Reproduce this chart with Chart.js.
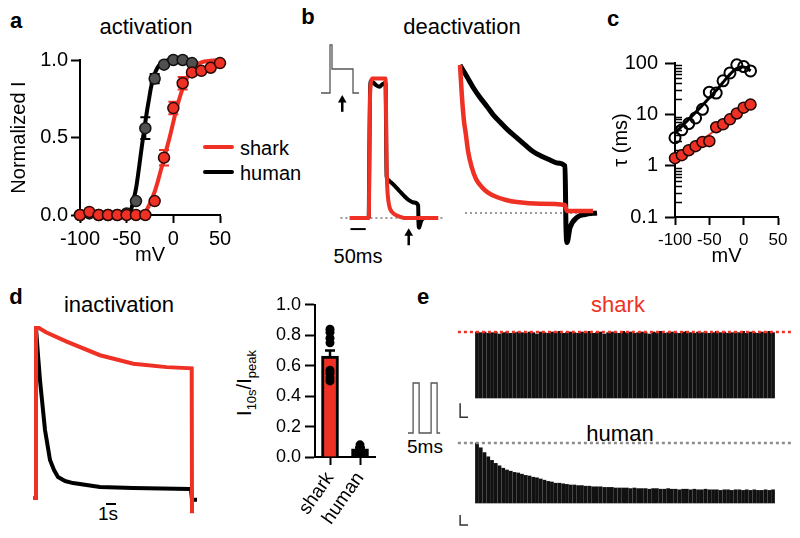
<!DOCTYPE html>
<html><head><meta charset="utf-8">
<script src="https://cdn.jsdelivr.net/npm/chart.js@4.4.1/dist/chart.umd.min.js"></script>
<style>
body{margin:0;background:#fff;}
#wrap{position:relative;width:800px;height:538px;overflow:hidden;font-family:"Liberation Sans",Arial,sans-serif;color:#000;background:#fff;}
canvas{position:absolute;}
.t{position:absolute;transform:translate(-50%,-50%);white-space:nowrap;line-height:1;}
.lt{position:absolute;transform:translate(0,-50%);white-space:nowrap;line-height:1;}
.lg{position:absolute;height:4px;border-radius:2px;}
</style></head><body><div id="wrap">
<div class="t" style="left:16px;top:21px;font-size:22px;font-weight:bold">a</div>
<div class="t" style="left:146px;top:27px;font-size:22px">activation</div>
<div class="lg" style="left:203px;top:145px;width:31px;background:#ee3124"></div>
<div class="lt" style="left:240px;top:148px;font-size:20px">shark</div>
<div class="lg" style="left:203px;top:170px;width:31px;background:#000"></div>
<div class="lt" style="left:240px;top:173px;font-size:20px">human</div>
<div class="t" style="left:308px;top:17px;font-size:22px;font-weight:bold">b</div>
<div class="t" style="left:462px;top:27px;font-size:22px">deactivation</div>
<div class="t" style="left:358px;top:256px;font-size:20px">50ms</div>
<div class="t" style="left:613px;top:19px;font-size:22px;font-weight:bold">c</div>
<div class="t" style="left:16px;top:297px;font-size:22px;font-weight:bold">d</div>
<div class="t" style="left:119px;top:305px;font-size:22px">inactivation</div>
<div class="t" style="left:108px;top:513px;font-size:19px">1s</div>
<div class="t" style="left:246px;top:383px;font-size:20px;transform:translate(-50%,-50%) rotate(-90deg)">I<sub style="font-size:13px">10s</sub>/I<sub style="font-size:13px">peak</sub></div>
<div class="t" style="left:423px;top:297px;font-size:22px;font-weight:bold">e</div>
<div class="t" style="left:618px;top:305px;font-size:22px;color:#ee3124">shark</div>
<div class="t" style="left:620px;top:434px;font-size:22px">human</div>
<div class="t" style="left:425px;top:446px;font-size:19px">5ms</div>
</div>
<script>
const RED = '#ee3124';
const DOT_GREY = '#8c8c8c';

// ---------- a: activation ----------
const actVoltage = [-100,-90,-80,-70,-60,-50,-40,-30,-20,-10,0,10,20,30,40,50];
const actHuman    = [0.00,0.01,0.00,0.00,0.00,0.01,0.09,0.56,0.88,0.97,1.00,1.00,0.98];
const actHumanSem = [0,0,0,0,0,0,0.01,0.07,0.03,0.01,0,0,0.01];
const actShark    = [0.00,0.02,0.00,0.00,0.00,0.00,0.00,0.00,0.09,0.37,0.69,0.85,0.92,0.93,0.95,0.98];
const actSharkSem = [0,0,0,0,0,0,0,0,0.01,0.05,0.04,0.04,0.02,0.01,0.01,0.01];
const actFitHumanV = [-100,-55,-48,-45,-43,-40,-38,-36,-34,-32,-30,-28,-26,-24,-22,-20,-17,-14,-10,-5,0,20];
const actFitHuman  = [0,0,0.01,0.04,0.09,0.17,0.25,0.34,0.43,0.52,0.6,0.68,0.75,0.82,0.87,0.91,0.95,0.975,0.99,0.998,1,1];
const actFitSharkV = [-100,-35,-30,-27,-24,-20,-16,-12,-8,-4,0,4,8,12,16,20,25,30,40,50];
const actFitShark  = [0,0,0.02,0.05,0.09,0.15,0.23,0.32,0.41,0.5,0.6,0.7,0.78,0.85,0.9,0.94,0.97,0.985,0.995,1.0];
const actXTicks = [-100,-50,0,50];
const actYTicks = [0,0.5,1];
const actYLabels = ['0.0','0.5','1.0'];

// ---------- b: deactivation ----------
const deactLeftRedT   = [27,90,92,94,97,102,145,146.5,147.5,148.5,150,152,155,159,165,175,190,205,318];
const deactLeftRedI   = [0,0,0.4,0.85,0.97,1.0,1.0,0.8,0.55,0.38,0.25,0.17,0.11,0.07,0.045,0.025,0.01,0,0];
const deactLeftBlackT = [90,92,94,97,105,115,125,135,145,146.5,147.5,148.5,152,160,175,188,205,220,239,252,253,255,258,262,268,275];
const deactLeftBlackI = [0,0.5,0.9,0.98,0.97,0.95,0.94,0.96,0.97,0.7,0.45,0.3,0.275,0.26,0.23,0.2,0.16,0.13,0.11,0.09,-0.03,-0.07,-0.05,-0.02,-0.005,0];
const deactRightBlackT = [0,7,13,20,27,33,40,48,57,65,73,81,90,97,105,106,107,110,117,125,137];
const deactRightBlackI = [1,0.92,0.85,0.78,0.72,0.665,0.615,0.56,0.507,0.46,0.415,0.385,0.358,0.338,0.318,-0.1,-0.2,-0.1,-0.03,-0.01,0];
const deactRightRedT = [0,2,4,5.7,8,11.7,16,21.7,28,36.7,46,56.7,80,105,106.7,133];
const deactRightRedI = [1,0.78,0.62,0.54,0.42,0.31,0.23,0.176,0.138,0.108,0.088,0.074,0.062,0.054,0.014,0.014];
const protoBTime = [0,27,27,33,33,96,96,114];
const protoBVolt = [-80,-80,60,60,-10,-10,-80,-80];

// ---------- c: tau ----------
const tauVoltage = [-100,-90,-80,-70,-60,-50,-40,-30,-20,-10,0,10];
const tauHuman = [3.5,5.0,6.6,8.5,12.5,27,26,45,64,92,85,70];
const tauShark = [1.4,1.6,2.0,2.4,2.9,3.0,5.6,6.4,8.0,10.4,13.5,15.5];
const tauFitHumanV = [-100,-80,-60,-50,-40,-30,-20,-12,-5,0,5,10];
const tauFitHuman  = [4.3,8,15,21,29,42,60,76,84,84,79,70];
const tauFitSharkV = [-100,10];
const tauFitShark  = [1.35,15];
const tauXTicks = [-100,-50,0,50];
const tauYLabelMap = {'0.1':'0.1','1':'1','10':'10','100':'100'};
const tauYTicks = [];
for (const e of [-1,0,1]) for (let k=1;k<=9;k++) tauYTicks.push(k*Math.pow(10,e));
tauYTicks.push(100);

// ---------- d: inactivation ----------
const inactRedT = [-0.3,0,0,0.3,1,3.07,6.4,9.73,13.07,15.57,15.6];
const inactRedI = [0,0,1,1,0.975,0.92,0.84,0.79,0.77,0.763,-0.09];
const inactBlackT = [0,0.2,0.4,0.6,0.9,1.1,1.4,1.8,2.2,2.9,3.7,6.4,9.7,15.4,15.5,15.6,16.1];
const inactBlackI = [1,0.84,0.694,0.576,0.4,0.33,0.224,0.165,0.124,0.1,0.088,0.065,0.059,0.053,0.05,-0.01,-0.01];
const inactGroups = ['shark','human'];
const inactMean = [0.663,0.054];
const inactSem = [0.037,0.008];
const inactSharkCells = [0.84,0.82,0.78,0.75,0.57,0.55,0.52,0.50];
const inactHumanCells = [0.08,0.06,0.05,0.04,0.03];
const inactYTicks = [0,0.2,0.4,0.6,0.8,1.0];
const inactYLabels = ['0.0','0.2','0.4','0.6','0.8','1.0'];

// ---------- e: pulse trains ----------
const sharkPulsePeak = [1.00,0.99,1.00,0.98,0.99,1.00,0.97,0.99,1.00,0.98,
  0.99,1.00,0.99,0.98,1.00,0.99,0.97,1.00,0.99,0.98,
  1.00,0.99,1.01,0.98,0.99,1.00,0.99,0.98,1.00,0.99,
  1.01,0.98,0.99,1.00,0.97,0.99,1.00,0.99,0.98,1.01,
  0.99,1.00,0.98,0.99,1.00,0.99,0.97,1.00,0.99,1.01,
  0.98,0.99,1.00,0.99,0.98,1.00,1.01,0.99,0.98,1.00,
  0.99,1.00,0.98,0.99,1.01,0.99,1.00,0.98,0.99,1.00,
  0.99,1.01,0.98,1.00,0.99,0.98,1.00,0.99,1.01,0.99];
const humanPulsePeak = [1.00,0.92,0.84,0.77,0.71,0.66,0.62,0.58,0.55,0.53,
  0.51,0.50,0.48,0.46,0.45,0.43,0.42,0.40,0.38,0.36,
  0.35,0.33,0.33,0.32,0.31,0.30,0.30,0.29,0.29,0.28,
  0.28,0.27,0.27,0.27,0.26,0.26,0.26,0.25,0.25,0.25,
  0.25,0.24,0.25,0.24,0.24,0.24,0.23,0.24,0.24,0.23,
  0.23,0.24,0.23,0.23,0.22,0.23,0.23,0.22,0.23,0.22,
  0.22,0.23,0.22,0.22,0.22,0.21,0.22,0.22,0.21,0.22,
  0.22,0.21,0.22,0.21,0.22,0.21,0.21,0.22,0.21,0.22];
const protoETime = [0,1.7,1.7,3.7,3.7,7.7,7.7,9.7,9.7,10.7];
const protoEVolt = [-80,-80,0,0,-80,-80,0,0,-80,-80];

// ================= helpers =================
const wrap = document.getElementById('wrap');
function mkCanvas(left, top, w, h){
  const c = document.createElement('canvas');
  c.width = w; c.height = h;
  c.style.left = left+'px'; c.style.top = top+'px';
  c.style.width = w+'px'; c.style.height = h+'px';
  wrap.appendChild(c);
  return c;
}
const pts = (xs, ys) => xs.map((x,i)=>({x, y:ys[i]}));
function axis(o){
  const a = {
    type: o.type || 'linear', position: o.position, offset: !!o.offset,
    afterFit: (s)=>{ if (o.position==='left') s.width = o.size; else s.height = o.size; },
    ticks: { autoSkip:false, maxRotation:o.rot||0, minRotation:o.rot||0, padding:o.pad, color:'#000', font:{size:o.font||20} },
    grid: { display:true, drawOnChartArea:false, drawTicks:true, tickLength:o.tl, tickWidth:2, tickColor:o.tc || '#000', offset:false },
    border: { display:true, color:'#000', width:2 },
    title: { display:!!o.title, text:o.title || '', color:'#000', font:{size:o.titleFont||o.font||20}, padding:o.titlePad || 0 }
  };
  if (o.min !== undefined) a.min = o.min;
  if (o.max !== undefined) a.max = o.max;
  if (o.ticksAt) a.afterBuildTicks = (s)=>{ s.ticks = o.ticksAt.map(v=>({value:v})); };
  if (o.cb) a.ticks.callback = o.cb;
  return a;
}
function hidden(min,max){ return {type:'linear', display:false, min, max, offset:false}; }
function baseOpts(scales, padding){
  return { responsive:false, animation:false, devicePixelRatio:1,
    layout:{padding: padding || 0},
    plugins:{legend:{display:false}, tooltip:{enabled:false}},
    events:[], scales };
}
function errPlugin(specs, hook){
  const p = { id:'err' };
  p[hook] = function(chart, args){
    const s = specs[args.index]; if (!s) return;
    const meta = chart.getDatasetMeta(args.index);
    const ys = chart.scales.y, ctx = chart.ctx;
    ctx.save(); ctx.strokeStyle = s.color; ctx.lineWidth = s.width || 2;
    meta.data.forEach((el,i)=>{
      const e = s.sem[i]; if (!e) return;
      const v = ys.getValueForPixel(el.y);
      const hi = ys.getPixelForValue(v+e), lo = s.upOnly ? el.y : ys.getPixelForValue(v-e);
      ctx.beginPath();
      ctx.moveTo(el.x, lo); ctx.lineTo(el.x, hi);
      ctx.moveTo(el.x - s.cap, hi); ctx.lineTo(el.x + s.cap, hi);
      if (!s.upOnly){ ctx.moveTo(el.x - s.cap, lo); ctx.lineTo(el.x + s.cap, lo); }
      ctx.stroke();
    });
    ctx.restore();
  };
  return p;
}
const line = (data, color, width, extra) => Object.assign({type:'line', data, borderColor:color, borderWidth:width, pointRadius:0, fill:false, tension:0, clip:false, borderJoinStyle:'round'}, extra||{});
const SMOOTH = {cubicInterpolationMode:'monotone'};

// ================= a =================
new Chart(mkCanvas(0,0,300,280), {
  type:'scatter',
  data:{datasets:[
    {data:pts(actVoltage, actShark), backgroundColor:RED, borderColor:'#2a0805', borderWidth:1.5, pointRadius:5.5, order:0, clip:false},
    {data:pts(actVoltage, actHuman), backgroundColor:'#505050', borderColor:'#111', borderWidth:1.5, pointRadius:5.5, order:1, clip:false},
    line(pts(actFitHumanV, actFitHuman), '#000', 4, Object.assign({order:2}, SMOOTH)),
    line(pts(actFitSharkV, actFitShark), RED, 4, Object.assign({order:3}, SMOOTH))
  ]},
  options: baseOpts({
    x: axis({position:'bottom', min:-100, max:50, ticksAt:actXTicks, size:65, tl:8, pad:4, cb:v=>String(v), title:'mV', titlePad:{top:0,bottom:13}}),
    y: axis({position:'left', min:0, max:1, ticksAt:actYTicks, size:80, tl:9, pad:3, cb:(v,i)=>actYLabels[i], title:'Normalized I', titlePad:{top:7,bottom:0}})
  }, {top:60, right:80, left:0, bottom:0}),
  plugins:[errPlugin({0:{sem:actSharkSem, color:RED, cap:5, width:2}, 1:{sem:actHumanSem, color:'#000', cap:5, width:2}}, 'beforeDatasetDraw')]
});

// ================= b =================
new Chart(mkCanvas(315,38,50,62), {
  type:'scatter',
  data:{datasets:[ line(pts(protoBTime, protoBVolt), '#555', 1.3, {borderJoinStyle:'miter'}) ]},
  options: baseOpts({x:hidden(-18,132), y:hidden(-100.4,80.3)})
});
new Chart(mkCanvas(315,40,135,215), {
  type:'scatter',
  data:{datasets:[
    line([{x:-3,y:0},{x:333,y:0}], '#999', 2, {borderDash:[2,3], order:5}),
    line(pts(deactLeftBlackT, deactLeftBlackI), '#000', 4, Object.assign({order:2}, SMOOTH)),
    line(pts(deactLeftRedT, deactLeftRedI), RED, 4, Object.assign({order:1}, SMOOTH)),
    line([{x:30,y:-0.08},{x:80,y:-0.08}], '#000', 2, {order:0}),
    line([{x:3,y:0.761},{x:3,y:0.845}], '#000', 2.5, {order:0, pointRadius:[0,5], pointStyle:'triangle', pointBackgroundColor:'#000', pointBorderWidth:0}),
    line([{x:221,y:-0.196},{x:221,y:-0.11}], '#000', 2.5, {order:0, pointRadius:[0,5], pointStyle:'triangle', pointBackgroundColor:'#000', pointBorderWidth:0})
  ]},
  options: baseOpts({x:hidden(-70,340), y:hidden(-0.23,1.24)})
});
new Chart(mkCanvas(455,40,145,215), {
  type:'scatter',
  data:{datasets:[
    line([{x:5,y:0},{x:138,y:0}], '#999', 2, {borderDash:[2,3], order:5}),
    line(pts(deactRightBlackT, deactRightBlackI), '#000', 5, Object.assign({order:2}, SMOOTH)),
    line(pts(deactRightRedT, deactRightRedI), RED, 4.5, Object.assign({order:1}, SMOOTH))
  ]},
  options: baseOpts({x:hidden(-5,140), y:hidden(-0.284,1.169)})
});

// ================= c =================
const minorTicks = { id:'minorTicks', beforeDatasetsDraw(chart){
  const y = chart.scales.y, ctx = chart.ctx, L = chart.chartArea.left;
  ctx.save(); ctx.strokeStyle = '#000'; ctx.lineWidth = 1.5;
  y.ticks.forEach(t=>{
    if (tauYLabelMap[String(t.value)]) return;
    const p = Math.round(y.getPixelForValue(t.value)) + 0.5;
    ctx.beginPath(); ctx.moveTo(L, p); ctx.lineTo(L+7, p); ctx.stroke();
  });
  ctx.restore();
}};
const cY = axis({type:'logarithmic', position:'left', min:0.1, max:100, ticksAt:tauYTicks, size:75, tl:10, pad:7,
  cb:v=>tauYLabelMap[String(v)] || '', title:'τ (ms)', titlePad:{top:9,bottom:0},
  tc:(ctx)=> tauYLabelMap[String(ctx.tick && ctx.tick.value)] ? '#000' : 'rgba(0,0,0,0)'});
new Chart(mkCanvas(600,40,200,240), {
  type:'scatter',
  data:{datasets:[
    {data:pts(tauVoltage, tauShark), backgroundColor:RED, borderColor:'#1a0503', borderWidth:1.5, pointRadius:5.5, order:0, clip:false},
    {data:pts(tauVoltage, tauHuman), backgroundColor:'rgba(255,255,255,0)', borderColor:'#000', borderWidth:2, pointRadius:5.5, order:1, clip:false},
    line(pts(tauFitHumanV, tauFitHuman), '#000', 3, Object.assign({order:2}, SMOOTH)),
    line(pts(tauFitSharkV, tauFitShark), RED, 2, {order:3})
  ]},
  options: baseOpts({
    x: axis({position:'bottom', min:-100, max:50, ticksAt:tauXTicks, size:63, tl:8, pad:5, font:17, titleFont:20, cb:v=>String(v), title:'mV', titlePad:{top:0,bottom:12}}),
    y: cY
  }, {top:23, right:22, left:0, bottom:0}),
  plugins:[minorTicks]
});

// ================= d =================
new Chart(mkCanvas(20,310,190,220), {
  type:'scatter',
  data:{datasets:[
    line(pts(inactBlackT, inactBlackI), '#000', 4, {order:2}),
    line(pts(inactRedT, inactRedI), RED, 4, {order:1, borderJoinStyle:'miter'}),
    line([{x:7,y:-0.035},{x:8,y:-0.035}], '#000', 2, {order:0})
  ]},
  options: baseOpts({x:hidden(-1.6,17.4), y:hidden(-0.188,1.106)})
});
new Chart(mkCanvas(230,290,160,248), {
  type:'bar',
  data:{labels:inactGroups, datasets:[
    {type:'line', data:inactSharkCells.map(v=>({x:'shark',y:v})), showLine:false, pointRadius:4.5, backgroundColor:'#000', borderColor:'#000', borderWidth:0, order:0, clip:false},
    {type:'line', data:inactHumanCells.map(v=>({x:'human',y:v})), showLine:false, pointRadius:4.5, backgroundColor:'#000', borderColor:'#000', borderWidth:0, order:0, clip:false},
    {type:'bar', data:inactMean, backgroundColor:[RED,'#000'], borderColor:'#000', borderWidth:3, barThickness:17, order:2}
  ]},
  options: baseOpts({
    x: axis({type:'category', position:'bottom', offset:true, size:81, tl:8, pad:3, rot:55, font:19}),
    y: axis({position:'left', min:0, max:1, ticksAt:inactYTicks, size:85, tl:10, pad:4, font:18, cb:(v,i)=>inactYLabels[i]})
  }, {top:13, right:15, left:0, bottom:0}),
  plugins:[errPlugin({2:{sem:inactSem, color:'#000', cap:5, width:2.5, upOnly:true}}, 'afterDatasetDraw')]
});

// ================= e =================
new Chart(mkCanvas(403,375,42,65), {
  type:'scatter',
  data:{datasets:[ line(pts(protoETime, protoEVolt), '#555', 1.3, {borderJoinStyle:'miter'}) ]},
  options: baseOpts({x:hidden(-1.67,12.33), y:hidden(-91.2,12.8)})
});
function pulseChart(top, h, ymin, ymax, peaks, refColor, lbar){
  new Chart(mkCanvas(455, top, 345, h), {
    type:'bar',
    data:{datasets:[
      line([{x:-5.1,y:1},{x:84.3,y:1}], refColor, 2.5, {borderDash:[3,3], order:0}),
      line(lbar, '#333', 1.5, {order:1, borderJoinStyle:'miter'}),
      {type:'bar', data:peaks.map((v,i)=>({x:i,y:v})), backgroundColor:'#111', barThickness:3.1, order:2}
    ]},
    options: baseOpts({x:hidden(-5.87,86.2), y:hidden(ymin,ymax)})
  });
}
pulseChart(300, 130, -0.485, 1.485, sharkPulsePeak, RED, [{x:-4.5,y:-0.08},{x:-4.5,y:-0.29},{x:-2.4,y:-0.29}]);
pulseChart(435, 100, -0.533, 1.133, humanPulsePeak, DOT_GREY, [{x:-4.5,y:-0.2},{x:-4.5,y:-0.367},{x:-2.4,y:-0.367}]);
</script>
</body></html>
